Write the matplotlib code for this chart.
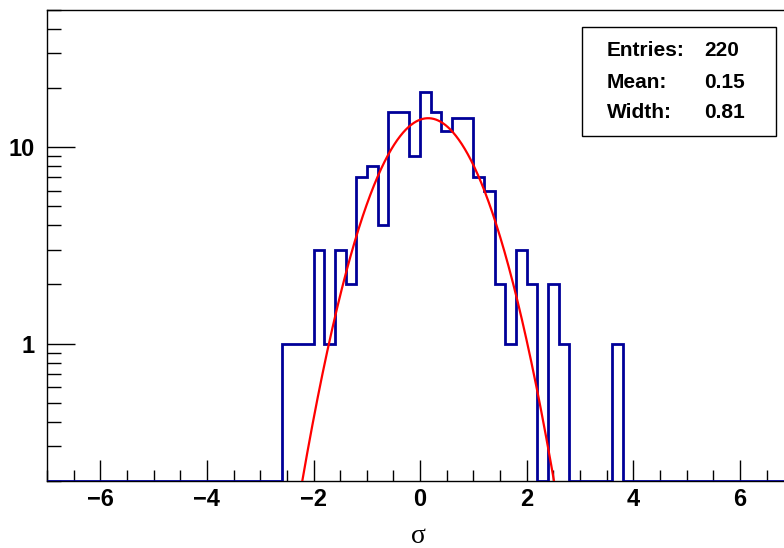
import numpy as np
import matplotlib
matplotlib.use("Agg")
import matplotlib.pyplot as plt
from matplotlib.ticker import FixedLocator, MultipleLocator, NullFormatter, LogLocator
from matplotlib.patches import Rectangle

# ---- data ----
x_min, x_max, n_bins = -7.0, 7.0, 70
counts = [0, 0, 0, 0, 0, 0, 0, 0, 0, 0,
          0, 0, 0, 0, 0, 0, 0, 0, 0, 0,
          0, 0, 1, 1, 1, 3, 1, 3, 2, 7,
          8, 4, 15, 15, 9, 19, 15, 12, 14, 14,
          7, 6, 2, 1, 3, 2, 0, 2, 1, 0,
          0, 0, 0, 1, 0, 0, 0, 0, 0, 0,
          0, 0, 0, 0, 0, 0, 0, 0, 0, 0]
fit_amp, fit_mean, fit_width = 14.0, 0.15, 0.81
stat_labels = ["Entries:", "Mean:", "Width:"]
stat_values = ["220", "0.15", "0.81"]
x_ticks = [-6, -4, -2, 0, 2, 4, 6]
y_ticks = [1, 10]
y_min, y_max = 0.2, 50

plt.rcParams['font.family'] = ['Liberation Sans', 'DejaVu Sans']

fig = plt.figure(figsize=(7.84, 5.48), dpi=100)
W, H = 784, 548
left_px, right_px, top_px, bot_px = 47, 793.3, 9.5, 481
ax = fig.add_axes([left_px / W, 1 - bot_px / H, (right_px - left_px) / W, (bot_px - top_px) / H])

edges = np.linspace(x_min, x_max, n_bins + 1)
vals = np.array(counts, dtype=float)
disp = np.where(vals > 0, vals, y_min)
ax.stairs(disp, edges, baseline=y_min, color='#000099', linewidth=2.0, zorder=3)

xs = np.linspace(x_min, x_max, 2000)
ys = fit_amp * np.exp(-0.5 * ((xs - fit_mean) / fit_width) ** 2)
ax.plot(xs, ys, color='#ff0000', linewidth=1.6, zorder=4)

ax.set_yscale('log')
ax.set_xlim(x_min, x_max)
ax.set_ylim(y_min, y_max)

ax.xaxis.set_major_locator(FixedLocator(x_ticks))
ax.xaxis.set_minor_locator(MultipleLocator(0.5))
ax.set_xticklabels([f"{t}".replace('-', '\u2212') for t in x_ticks], fontweight='bold', fontsize=17)
ax.yaxis.set_major_locator(FixedLocator(y_ticks))
ax.yaxis.set_minor_locator(LogLocator(base=10, subs=np.arange(2, 10)))
ax.yaxis.set_minor_formatter(NullFormatter())
ax.set_yticklabels([str(t) for t in y_ticks], fontweight='bold', fontsize=17)

ax.tick_params(axis='x', which='major', direction='in', length=15, width=1, pad=5, top=False)
ax.tick_params(axis='x', which='minor', direction='in', length=8, width=1, top=False)
ax.tick_params(axis='y', which='major', direction='in', length=20, width=1, pad=9, right=False)
ax.tick_params(axis='y', which='minor', direction='in', length=10, width=1, right=False)

for s in ax.spines.values():
    s.set_linewidth(1.0)

fig.text(418 / W, 1 - 543 / H, '\u03c3', family=['Liberation Serif', 'DejaVu Serif'],
         fontsize=20, ha='center', va='baseline')

# stats box
bx0, bx1, by0, by1 = 582, 776, 27, 136
fig.patches.append(Rectangle((bx0 / W, 1 - by1 / H), (bx1 - bx0) / W, (by1 - by0) / H,
                             transform=fig.transFigure, fill=True, facecolor='white',
                             edgecolor='black', linewidth=1.0, zorder=10))
row_y = [51, 82, 112]
for lab, val, yy in zip(stat_labels, stat_values, row_y):
    fig.text(607 / W, 1 - yy / H, lab, ha='left', va='center', fontsize=15, fontweight='bold', zorder=11)
    fig.text(704 / W, 1 - yy / H, val, ha='left', va='center', fontsize=15, fontweight='bold', zorder=11)

fig.savefig('out.png', dpi=100)
